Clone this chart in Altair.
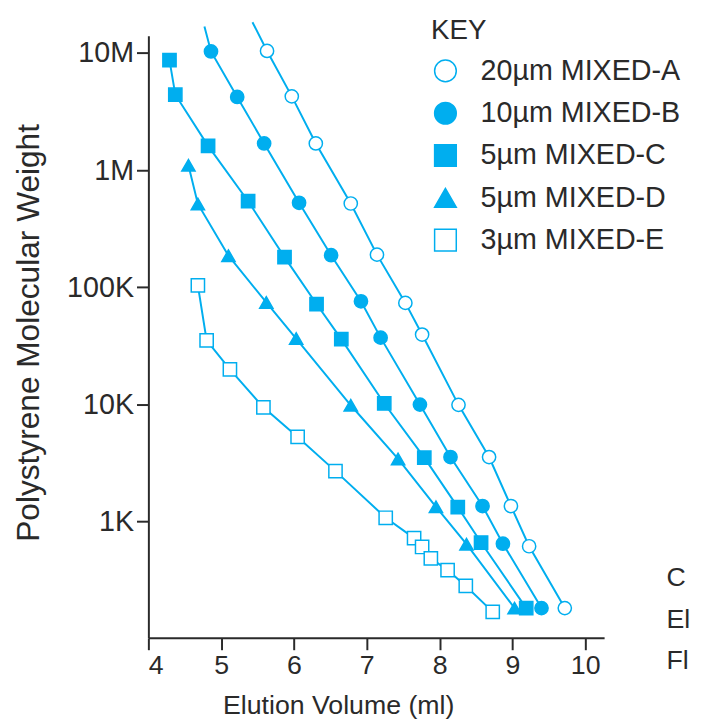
import altair as alt
import pandas as pd

BLUE = "#00AEEF"
INK = "#2a2a2a"
FONT = "Liberation Sans"

series_names = ["20µm MIXED-A", "10µm MIXED-B", "5µm MIXED-C", "5µm MIXED-D", "3µm MIXED-E"]
series_fill = ["white", BLUE, BLUE, BLUE, "white"]
series_stroke = [BLUE, BLUE, BLUE, BLUE, BLUE]
series_shape = ["circle", "circle", "square", "triangle-up", "square"]

a_vol = [5.63, 5.97, 6.30, 6.78, 7.14, 7.53, 7.76, 8.26, 8.68, 8.98, 9.23, 9.72]
a_mw = [10.4e6, 4.26e6, 1.69e6, 519e3, 190e3, 73.6e3, 39.5e3, 9.93e3, 3.56e3, 1.36e3, 617, 183]
b_vol = [4.86, 5.22, 5.59, 6.07, 6.51, 6.92, 7.19, 7.73, 8.15, 8.59, 8.87, 9.40]
b_mw = [10.3e6, 4.21e6, 1.69e6, 526e3, 188e3, 76e3, 37.2e3, 9.98e3, 3.56e3, 1.36e3, 649, 183]
c_vol = [4.29, 4.37, 4.82, 5.37, 5.87, 6.31, 6.65, 7.24, 7.79, 8.25, 8.57, 9.19]
c_mw = [8.67e6, 4.40e6, 1.61e6, 543e3, 181e3, 72e3, 36.1e3, 10.2e3, 3.52e3, 1.33e3, 664, 183]
d_vol = [4.55, 4.68, 5.10, 5.62, 6.03, 6.78, 7.43, 7.95, 8.37, 9.03]
d_mw = [1.10e6, 515e3, 186e3, 74.3e3, 36.5e3, 9.85e3, 3.43e3, 1.34e3, 643, 183]
e_vol = [4.68, 4.80, 5.12, 5.58, 6.05, 6.57, 7.26, 7.65, 7.76, 7.88, 8.11, 8.36, 8.73]
e_mw = [104e3, 35.3e3, 19.9e3, 9.46e3, 5.29e3, 2.70e3, 1.08e3, 724, 608, 486, 386, 283, 170]

# the A and B curves continue above the top of the axis (no marker there)
a_line_top_vol, a_line_top_mw = 5.43, 18.3e6
b_line_top_vol, b_line_top_mw = 4.77, 16.8e6

x_ticks = [4, 5, 6, 7, 8, 9, 10]
y_ticks = [1e3, 1e4, 1e5, 1e6, 1e7]
y_tick_labels = ["1K", "10K", "100K", "1M", "10M"]
side_notes = ["C", "El", "Fl"]

vols = [a_vol, b_vol, c_vol, d_vol, e_vol]
mws = [a_mw, b_mw, c_mw, d_mw, e_mw]

pts = []
for name, vs, ms in zip(series_names, vols, mws):
    for v, m in zip(vs, ms):
        pts.append({"series": name, "vol": v, "mw": m})
points_df = pd.DataFrame(pts)

line_rows = list(pts)
line_rows.append({"series": series_names[0], "vol": a_line_top_vol, "mw": a_line_top_mw})
line_rows.append({"series": series_names[1], "vol": b_line_top_vol, "mw": b_line_top_mw})
lines_df = pd.DataFrame(line_rows)

label_expr = ""
for v, l in zip(y_ticks, y_tick_labels):
    label_expr += f"abs(datum.value - {v}) < {v * 0.01} ? '{l}' : "
label_expr += "''"

x_enc = alt.X(
    "vol:Q",
    scale=alt.Scale(domain=[4, 10.26], nice=False, zero=False),
    axis=alt.Axis(
        values=x_ticks,
        title="Elution Volume (ml)",
        titleFontSize=27,
        titleX=192,
        titleY=77,
        titleAlign="center",
        titleBaseline="alphabetic",
        labelPadding=3,
        labelFontSize=27,
    ),
)
y_enc = alt.Y(
    "mw:Q",
    scale=alt.Scale(type="log", domain=[102, 14.0e6], nice=False),
    axis=alt.Axis(
        values=y_ticks,
        labelExpr=label_expr,
        labelFontSize=29,
        title="Polystyrene Molecular Weight",
        titleFontSize=32,
        titleAngle=-90,
        titleX=-111,
        titleY=300,
        titleAlign="center",
        titleBaseline="alphabetic",
        labelPadding=3,
    ),
)

legend = alt.Legend(
    title="KEY",
    orient="none",
    legendX=286,
    legendY=-19,
    padding=0,
    titleFontSize=28,
    titleFontWeight="normal",
    titleFont=FONT,
    titleColor=INK,
    titlePadding=12,
    labelFontSize=29,
    labelFont=FONT,
    labelColor=INK,
    labelLimit=0,
    labelOffset=21,
    symbolSize=480,
    symbolStrokeWidth=1.5,
    rowPadding=12.8,
)

lines = alt.Chart(lines_df).mark_line(color=BLUE, strokeWidth=2).encode(
    x=x_enc, y=y_enc, detail="series:N"
)

points = alt.Chart(points_df).mark_point(
    filled=True, strokeWidth=1.5, size=180, opacity=1
).encode(
    x=x_enc,
    y=y_enc,
    fill=alt.Fill("series:N", scale=alt.Scale(domain=series_names, range=series_fill), legend=legend),
    stroke=alt.Stroke("series:N", scale=alt.Scale(domain=series_names, range=series_stroke), legend=legend),
    shape=alt.Shape("series:N", scale=alt.Scale(domain=series_names, range=series_shape), legend=legend),
)

notes = []
for i, t in enumerate(side_notes):
    notes.append(
        alt.Chart(pd.DataFrame({"t": [t]})).mark_text(
            align="left", baseline="alphabetic", fontSize=27, font=FONT, color=INK
        ).encode(text="t:N", x=alt.value(524), y=alt.value(557 + 42 * i))
    )

chart = alt.layer(lines, points, *notes).properties(
    width=461,
    height=609,
    autosize=alt.AutoSizeParams(type="none"),
    padding={"left": 142, "top": 24, "right": 97, "bottom": 82},
).configure_view(stroke=None).configure_axis(
    grid=False,
    domainColor=INK,
    domainWidth=2,
    tickColor=INK,
    tickWidth=2,
    tickSize=12,
    labelFont=FONT,
    labelColor=INK,
    titleFont=FONT,
    titleFontWeight="normal",
    titleColor=INK,
)

chart.save("out.html", embed_options={"renderer": "svg", "actions": False})
